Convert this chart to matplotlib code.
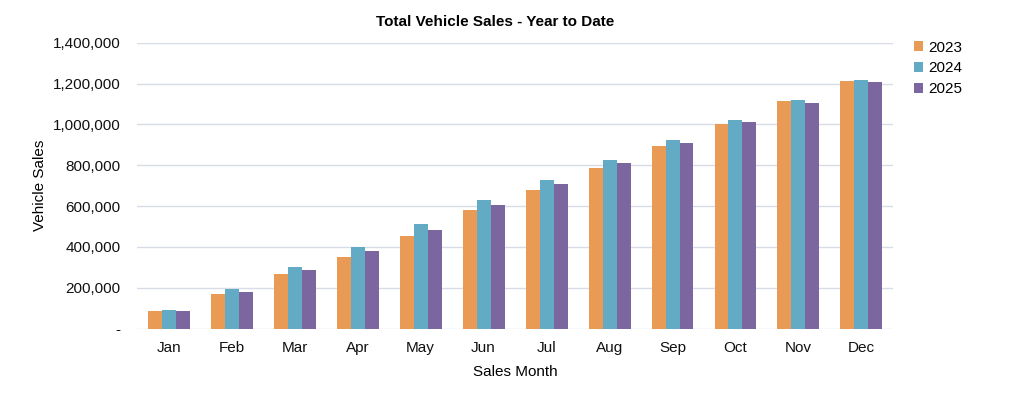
import matplotlib
matplotlib.use('Agg')
import matplotlib.pyplot as plt
from matplotlib.ticker import FuncFormatter
import numpy as np

months = ['Jan', 'Feb', 'Mar', 'Apr', 'May', 'Jun',
          'Jul', 'Aug', 'Sep', 'Oct', 'Nov', 'Dec']
sales_2023 = [84000, 169000, 267000, 350000, 455000, 580000,
              680000, 787000, 895000, 1003000, 1115000, 1213000]
sales_2024 = [90000, 192000, 301000, 399000, 512000, 630000,
              728000, 826000, 923000, 1021000, 1121000, 1216000]
sales_2025 = [86000, 180000, 287000, 380000, 484000, 606000,
              710000, 809000, 911000, 1010000, 1107000, 1206000]
years = ['2023', '2024', '2025']
colors = ['#E99B55', '#63AAC4', '#7B66A0']

plt.rcParams['font.family'] = ['Liberation Sans', 'DejaVu Sans']
plt.rcParams['font.size'] = 11

fig = plt.figure(figsize=(10.24, 3.93), dpi=100)
ax = fig.add_axes([0.134, 0.164, 0.738, 0.727])

xs = np.arange(len(months))
w = 0.222
for i, (vals, yr, c) in enumerate(zip([sales_2023, sales_2024, sales_2025], years, colors)):
    ax.bar(xs + (i - 1) * w, vals, w, color=c, label=yr, zorder=3)

ax.set_xlim(-0.5, len(months) - 0.5)
ax.set_ylim(0, 1400000)
ax.set_yticks(np.arange(0, 1400001, 200000))
ax.yaxis.set_major_formatter(FuncFormatter(lambda v, p: '-' if v == 0 else '{:,.0f}'.format(v)))
ax.set_xticks(xs)
ax.set_xticklabels(months)
ax.grid(axis='y', color='#d8dce6', linewidth=1, zorder=0)
for s in ['top', 'right', 'left', 'bottom']:
    ax.spines[s].set_visible(False)
ax.tick_params(axis='both', length=0, pad=9, labelcolor='#111111')
ax.tick_params(axis='y', pad=12)

ax.set_xlabel('Sales Month', labelpad=7)
ax.set_ylabel('Vehicle Sales', labelpad=4)
fig.text(0.484, 0.944, 'Total Vehicle Sales - Year to Date', fontweight='bold',
         fontsize=11, ha='center', va='center')

ax.legend(loc='upper left', bbox_to_anchor=(1.01, 1.056), frameon=False,
          handlelength=0.6, handleheight=0.6, handletextpad=0.3, labelspacing=0.45,
          fontsize=11)

fig.savefig('out.png', dpi=100)
